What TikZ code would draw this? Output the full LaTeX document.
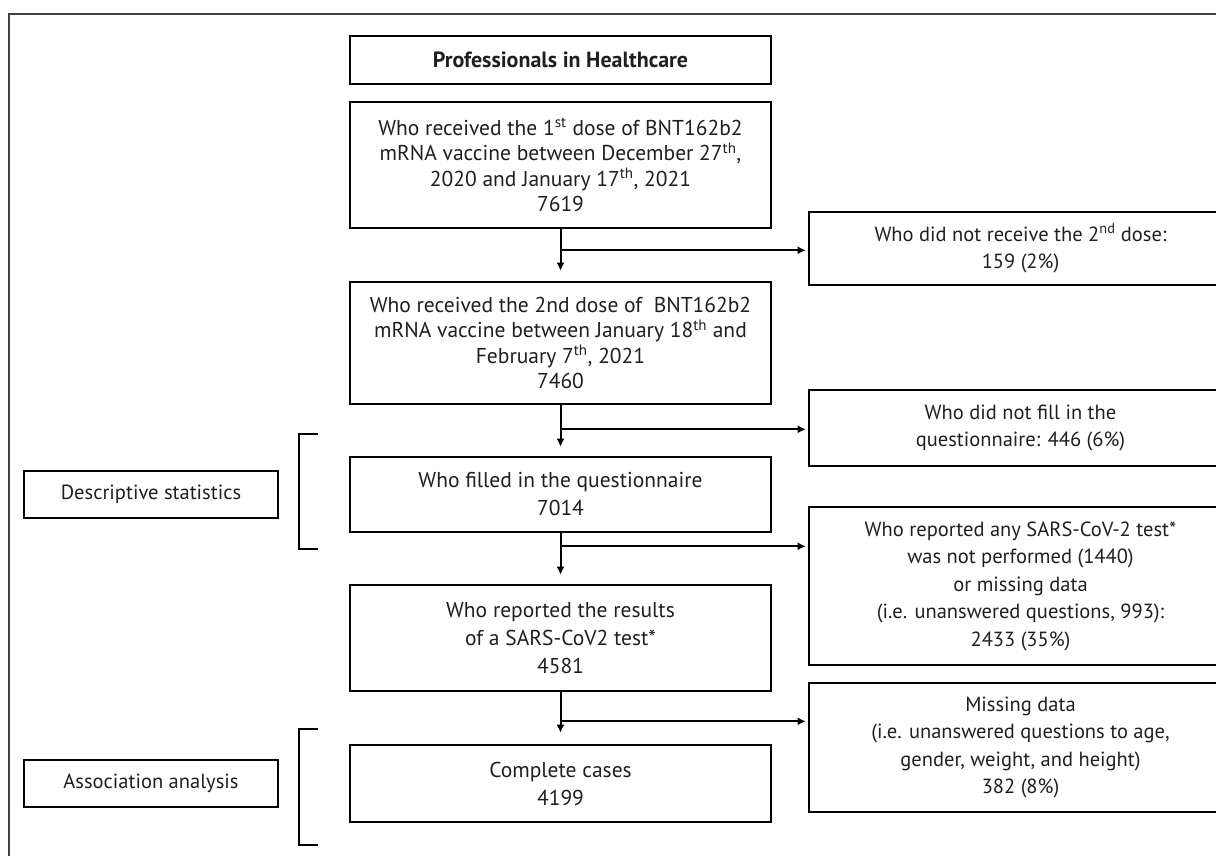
\documentclass[tikz,border=0pt]{standalone}
\usepackage{fontspec}
\setmainfont{PT Sans}
\usetikzlibrary{arrows.meta}
\begin{document}
\begin{tikzpicture}[x=1pt,y=-1pt,
  box/.style={draw=black,line width=2.6pt,rectangle,inner sep=0pt,align=center,
    text=black!88,font=\fontsize{20.5}{27.5}\selectfont},
  mfont/.style={font=\fontsize{21.5}{28}\selectfont},
  tight/.style={font=\fontsize{21.5}{25.5}\selectfont},
  main/.style={box,minimum width=421pt},
  side/.style={box,minimum width=423pt},
  lab/.style={box,minimum width=254pt,minimum height=47pt},
  arr/.style={line width=2pt,-{Latex[length=8pt,width=8pt]}},
  brk/.style={line width=2.6pt},
  frame/.style={line width=2pt,draw=black!75}
]
\useasboundingbox (0,0) rectangle (1216,855);
\clip (0,0) rectangle (1216,855);

% outer frame (cropped)
\draw[frame] (9,860) -- (9,14) -- (1230,14);

% main column
\node[main,minimum height=48pt,font=\fontsize{22}{26}\selectfont] (t) at (560.5,60) {\textbf{Professionals in Healthcare}};
\node[main,tight,minimum height=126pt] (b1) at (560.5,165)
  {Who received the 1\textsuperscript{st} dose of BNT162b2\\
   mRNA vaccine between December 27\textsuperscript{th},\\
   2020 and January 17\textsuperscript{th}, 2021\\ 7619};
\node[main,tight,minimum height=122pt] (b2) at (560.5,343)
  {Who received the 2nd dose of\ \ BNT162b2\\
   mRNA vaccine between January 18\textsuperscript{th} and\\
   February 7\textsuperscript{th}, 2021\\ 7460};
\node[main,mfont,minimum height=75pt] (b3) at (560.5,494.5)
  {Who filled in the questionnaire\\ 7014};
\node[main,mfont,minimum height=106pt] (b4) at (560.5,638)
  {Who reported the results\\ of a SARS-CoV2 test*\\ 4581};
\node[main,mfont,minimum height=77pt] (b5) at (560.5,783.5)
  {Complete cases\\ 4199};

% side boxes
\node[side,minimum height=73pt] (r1) at (1020.5,248.5)
  {Who did not receive the 2\textsuperscript{nd} dose:\\ 159 (2\%)};
\node[side,minimum height=76pt] (r2) at (1020.5,428)
  {Who did not fill in the\\ questionnaire: 446 (6\%)};
\node[side,minimum height=158pt] (r3) at (1020.5,586)
  {Who reported any SARS-CoV-2 test*\\ was not performed (1440)\\ or missing data\\
   (i.e. unanswered questions, 993):\\ 2433 (35\%)};
\node[side,minimum height=129pt] (r4) at (1020.5,747.5)
  {Missing data\\ (i.e. unanswered questions to age,\\ gender, weight, and height)\\ 382 (8\%)};

% left labels
\node[lab] (ds) at (151,494.5) {Descriptive statistics};
\node[lab] (aa) at (151,783.5) {Association analysis};

% brackets
\draw[brk] (318,434) -- (299,434) -- (299,549) -- (318,549);
\draw[brk] (318,729) -- (299,729) -- (299,845) -- (318,845);

% vertical arrows
\draw[arr,shorten >=10pt] (b1.south) -- (b2.north);
\draw[arr,shorten >=9pt] (b2.south) -- (b3.north);
\draw[arr,shorten >=9pt] (b3.south) -- (b4.north);
\draw[arr,shorten >=11pt] (b4.south) -- (b5.north);

% branch points
\path (b1.south) ++(0,21) coordinate (k1);
\path (b2.south) ++(0,24) coordinate (k2);
\path (b3.south) ++(0,13) coordinate (k3);
\path (b4.south) ++(0,29) coordinate (k4);

% side arrows
\draw[arr,shorten >=2pt] (k1) -- (k1 -| r1.west);
\draw[arr,shorten >=2pt] (k2) -- (k2 -| r2.west);
\draw[arr,shorten >=2pt] (k3) -- (k3 -| r3.west);
\draw[arr,shorten >=2pt] (k4) -- (k4 -| r4.west);
\end{tikzpicture}
\end{document}
